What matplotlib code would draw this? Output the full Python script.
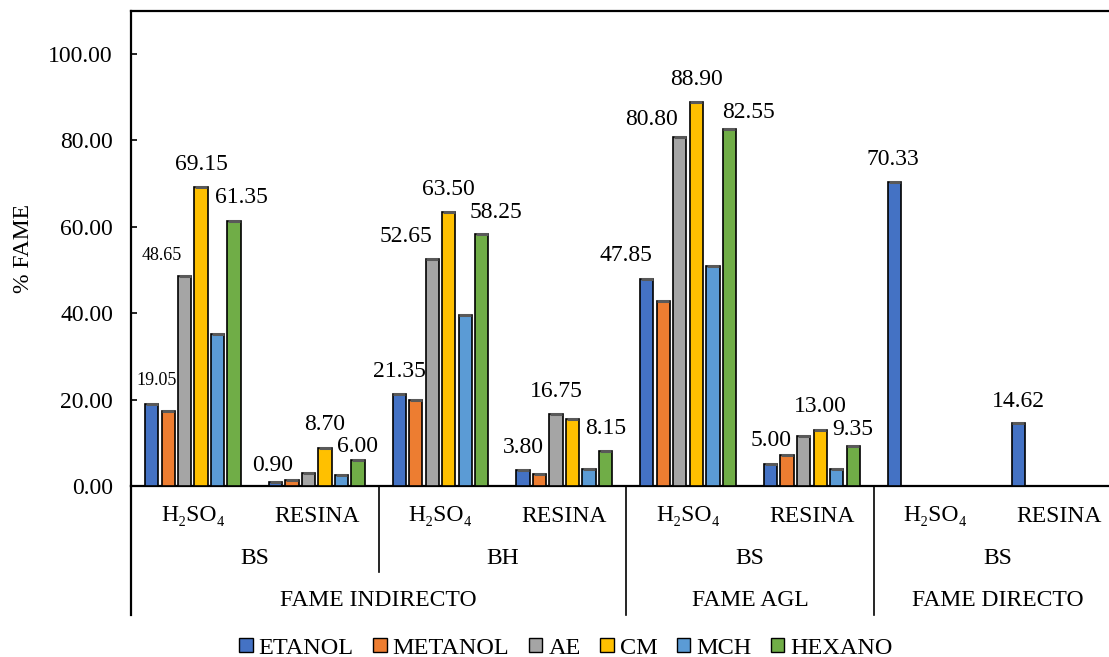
import matplotlib
matplotlib.use("Agg")
import matplotlib.pyplot as plt
from matplotlib.patches import Patch
import numpy as np

plt.rcParams["font.family"] = ["Liberation Serif", "DejaVu Serif"]

# category levels (innermost first)
catalysts = ["H₂SO₄", "RESINA", "H₂SO₄", "RESINA", "H₂SO₄", "RESINA", "H₂SO₄", "RESINA"]
biomass = ["BS", "BH", "BS", "BS"]          # each spans two catalysts
methods = ["FAME INDIRECTO", "FAME AGL", "FAME DIRECTO"]
method_spans = [(0, 4), (4, 6), (6, 8)]

series_names = ["ETANOL", "METANOL", "AE", "CM", "MCH", "HEXANO"]
series_colors = ["#4472C4", "#ED7D31", "#A5A5A5", "#FFC000", "#5B9BD5", "#70AD47"]

etanol = [19.05, 0.90, 21.35, 3.80, 47.85, 5.00, 70.33, 14.62]
metanol = [17.3, 1.5, 20.0, 2.8, 42.8, 7.1, 0, 0]
ae = [48.65, 3.0, 52.65, 16.75, 80.80, 11.5, 0, 0]
cm = [69.15, 8.70, 63.50, 15.6, 88.90, 13.00, 0, 0]
mch = [35.1, 2.5, 39.5, 3.9, 50.9, 3.9, 0, 0]
hexano = [61.35, 6.00, 58.25, 8.15, 82.55, 9.35, 0, 0]
series = [etanol, metanol, ae, cm, mch, hexano]

# labelled bars: (category, series, dx px, gap px, small font)
labelled = [
    (0, 0, 5, 19, True), (0, 2, -23, 16, True), (0, 3, 0, 17, False), (0, 5, 7, 18, False),
    (1, 0, -3, 11, False), (1, 3, 0, 18, False), (1, 5, 0, 8, False),
    (2, 0, 0, 17, False), (2, 2, -26, 17, False), (2, 3, 0, 17, False), (2, 5, 14, 16, False),
    (3, 0, 0, 17, False), (3, 2, 0, 17, False), (3, 5, 0, 17, False),
    (4, 0, -21, 18, False), (4, 2, -28, 12, False), (4, 3, 0, 17, False), (4, 5, 19, 11, False),
    (5, 0, 0, 18, False), (5, 3, 0, 18, False), (5, 5, 0, 11, False),
    (6, 0, -2, 17, False),
    (7, 0, 0, 16, False),
]

W, H = 1109, 657
fig = plt.figure(figsize=(W / 100, H / 100), dpi=100)
cat_px = 123.8
ax = fig.add_axes([131 / W, (H - 486) / H, 8 * cat_px / W, 475.2 / H])

pitch = 16.5 / cat_px
width = 13.3 / cat_px
x = np.arange(len(catalysts))

for i, (vals, color) in enumerate(zip(series, series_colors)):
    vals = np.asarray(vals, dtype=float)
    keep = vals > 0
    xs = x[keep] + (i - 2.5) * pitch
    ax.bar(xs, vals[keep], width=width, color=color, edgecolor="black",
           linewidth=1.2, zorder=3)
    # darker bevel along the bar tops
    ax.hlines(vals[keep], xs - width / 2 + 0.006, xs + width / 2 - 0.006,
              color="#595959", linewidth=2.2, zorder=4)

for c, s, dx, gap, small in labelled:
    v = series[s][c]
    ax.annotate(f"{v:.2f}", (c + (s - 2.5) * pitch, v), xytext=(dx, gap),
                textcoords="offset pixels", ha="center", va="baseline",
                fontsize=13 if small else 17)

ax.set_xlim(-0.5, len(catalysts) - 0.5)
ax.set_ylim(0, 110)
ax.set_yticks(np.arange(0, 101, 20))
ax.set_yticklabels([f"{t:.2f}" for t in np.arange(0, 101, 20)])
ax.tick_params(axis="y", direction="in", length=4, width=1.2, labelsize=17, pad=13)
ax.tick_params(axis="x", length=0, labelbottom=False)
ax.set_ylabel("% FAME", fontsize=17, labelpad=10)

for side in ["left", "top", "bottom"]:
    ax.spines[side].set_linewidth(1.6)
ax.spines["right"].set_visible(False)

# multi-level category axis below the plot
px = 1 / 475.2
trans = ax.get_xaxis_transform()
y_cat, y_bio, y_meth = -30 * px, -73 * px, -115 * px
y_short, y_long = -86 * px, -129 * px

for k, name in enumerate(catalysts):
    ax.text(k, y_cat, name, transform=trans, ha="center", va="center", fontsize=17)
for k, name in enumerate(biomass):
    ax.text(2 * k + 0.5, y_bio, name, transform=trans, ha="center", va="center", fontsize=17)
for (a, b), name in zip(method_spans, methods):
    ax.text((a + b - 1) / 2, y_meth, name, transform=trans, ha="center", va="center", fontsize=17)

ax.plot([-0.5, -0.5], [0, y_long], transform=trans, color="black", lw=1.6, clip_on=False)
ax.plot([1.5, 1.5], [0, y_short], transform=trans, color="black", lw=1.2, clip_on=False)
for b in [3.5, 5.5]:
    ax.plot([b, b], [0, y_long], transform=trans, color="black", lw=1.2, clip_on=False)

handles = [Patch(facecolor=c, edgecolor="black", linewidth=1.0) for c in series_colors]
fig.legend(handles, series_names, loc="center", bbox_to_anchor=(566 / W, 9 / H),
           ncol=6, frameon=False, fontsize=17.5, handlelength=0.55, handleheight=0.55,
           handletextpad=0.25, columnspacing=0.8, borderaxespad=0)

fig.savefig("out.png", dpi=100)
